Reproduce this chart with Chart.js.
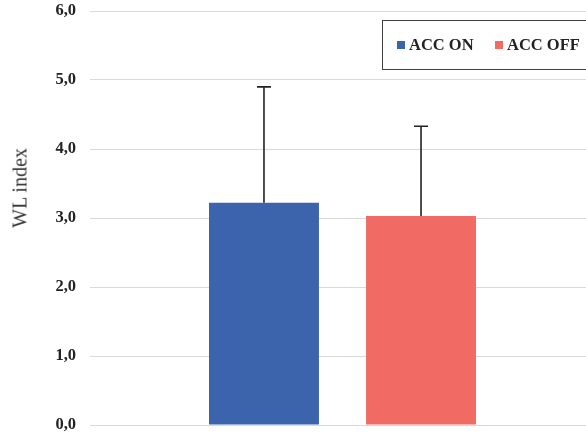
<!DOCTYPE html>
<html>
<head>
<meta charset="utf-8">
<script src="https://cdn.jsdelivr.net/npm/chart.js@4.4.1/dist/chart.umd.min.js"></script>
<style>
  html, body { margin: 0; padding: 0; background: #fff; overflow: hidden; }
  #wrap { position: relative; width: 595px; height: 439px; }
  #yTitle {
    position: absolute; left: 20px; top: 188px;
    transform: translate(-50%, -50%) rotate(-90deg);
    font: 20px "Liberation Serif", serif; color: #333; white-space: nowrap;
  }
  #legend {
    position: absolute; left: 382px; top: 20px; width: 230px; height: 50px;
    border: 1.5px solid #404040; box-sizing: border-box;
    font: bold 16.5px "Liberation Serif", serif; color: #222;
  }
  .item { position: absolute; top: 14px; white-space: nowrap; }
  .swatch { display: inline-block; width: 8px; height: 8px; margin-right: 4px; vertical-align: 1px; }
</style>
</head>
<body>
<div id="wrap">
  <canvas id="chart" width="595" height="439"></canvas>
  <div id="yTitle">WL index</div>
  <div id="legend"></div>
</div>
<script>
const categories = ["WL"];
const seriesLabels = ["ACC ON", "ACC OFF"];
const meanValues = [3.22, 3.03];
const sdValues = [1.68, 1.30];
const seriesColors = ["#3c64ac", "#f16a63"];
const yTicks = [0, 1, 2, 3, 4, 5, 6];

// legend drawn as html, box with border like the original
const legendEl = document.getElementById("legend");
const legendLeft = [14, 112];
seriesLabels.forEach((name, i) => {
  const item = document.createElement("div");
  item.className = "item";
  item.style.left = legendLeft[i] + "px";
  item.innerHTML = `<span class="swatch" style="background:${seriesColors[i]}"></span>${name}`;
  legendEl.appendChild(item);
});

const errorBars = {
  id: "errorBars",
  afterDatasetsDraw(chart) {
    const ctx = chart.ctx;
    const y = chart.scales.y;
    ctx.save();
    ctx.strokeStyle = "#222";
    ctx.lineWidth = 1.6;
    chart.data.datasets.forEach((ds, i) => {
      const bar = chart.getDatasetMeta(i).data[0];
      const top = y.getPixelForValue(ds.data[0] + sdValues[i]);
      ctx.beginPath();
      ctx.moveTo(bar.x, bar.y);
      ctx.lineTo(bar.x, top);
      ctx.moveTo(bar.x - 7, top);
      ctx.lineTo(bar.x + 7, top);
      ctx.stroke();
    });
    ctx.restore();
  }
};

new Chart(document.getElementById("chart"), {
  type: "bar",
  data: {
    labels: categories,
    datasets: seriesLabels.map((name, i) => ({
      label: name,
      data: [meanValues[i]],
      backgroundColor: seriesColors[i],
      categoryPercentage: 0.622,
      barPercentage: 0.70
    }))
  },
  options: {
    responsive: false,
    animation: false,
    layout: { padding: { top: 11, bottom: 14, left: 0, right: 0 } },
    plugins: { legend: { display: false }, tooltip: { enabled: false } },
    scales: {
      x: { display: false },
      y: {
        min: 0,
        max: 6,
        afterBuildTicks: s => { s.ticks = yTicks.map(v => ({ value: v })); },
        afterFit: s => { s.width = 90; s.paddingTop = 0; s.paddingBottom = 0; },
        border: { display: false },
        grid: { color: "#d9d9d9", lineWidth: 1, drawTicks: false },
        ticks: {
          padding: 14,
          color: "#222",
          font: { family: "Liberation Serif", size: 16.5, weight: "bold" },
          callback: v => v.toFixed(1).replace(".", ",")
        }
      }
    }
  },
  plugins: [errorBars]
});
</script>
</body>
</html>
